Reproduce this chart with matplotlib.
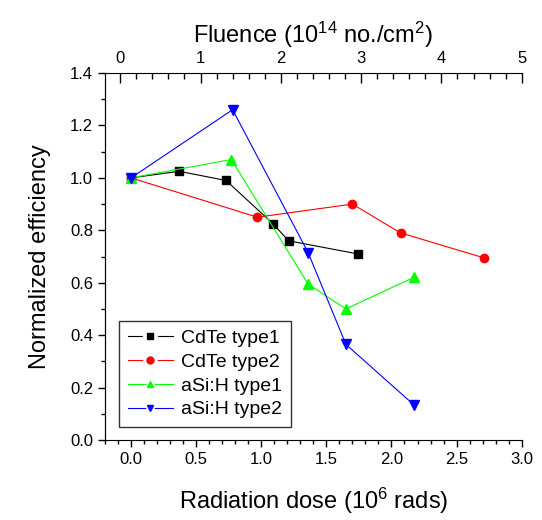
import numpy as np
import matplotlib
matplotlib.use("Agg")
import matplotlib.pyplot as plt
from matplotlib.ticker import MultipleLocator
from matplotlib.lines import Line2D

plt.rcParams['font.family'] = ['Liberation Sans', 'DejaVu Sans']
plt.rcParams['mathtext.fontset'] = 'custom'
plt.rcParams['mathtext.rm'] = 'Liberation Sans'
plt.rcParams['mathtext.it'] = 'Liberation Sans'
plt.rcParams['mathtext.bf'] = 'Liberation Sans'

# data (dose in 10^6 rads, normalized efficiency)
cdte1_x = [0.0, 0.37, 0.73, 1.09, 1.21, 1.74]
cdte1_y = [1.0, 1.025, 0.99, 0.825, 0.76, 0.71]
cdte2_x = [0.0, 0.97, 1.70, 2.07, 2.71]
cdte2_y = [1.0, 0.85, 0.90, 0.79, 0.695]
asi1_x = [0.0, 0.77, 1.36, 1.65, 2.17]
asi1_y = [1.0, 1.07, 0.595, 0.50, 0.62]
asi2_x = [0.0, 0.78, 1.36, 1.65, 2.17]
asi2_y = [1.0, 1.26, 0.715, 0.365, 0.135]

labels = ['CdTe type1', 'CdTe type2', 'aSi:H type1', 'aSi:H type2']
colors = ['black', 'red', '#00ff00', 'blue']
markers = ['s', 'o', '^', 'v']

fig = plt.figure(figsize=(5.42, 5.2), dpi=100)
ax = fig.add_axes([0.1937, 0.1538, 0.7688, 0.7058])

ax.plot(cdte1_x, cdte1_y, color=colors[0], marker=markers[0], ms=5.5, lw=0.8)
ax.plot(cdte2_x, cdte2_y, color=colors[1], marker=markers[1], ms=6, lw=0.8)
ax.plot(asi1_x, asi1_y, color=colors[2], marker=markers[2], ms=6.5, lw=0.8)
ax.plot(asi2_x, asi2_y, color=colors[3], marker=markers[3], ms=6.5, lw=0.8)

ax.set_xlim(-0.2, 3.0)
ax.set_ylim(0.0, 1.4)
ax.xaxis.set_major_locator(MultipleLocator(0.5))
ax.xaxis.set_minor_locator(MultipleLocator(0.1))
ax.yaxis.set_major_locator(MultipleLocator(0.2))
ax.yaxis.set_minor_locator(MultipleLocator(0.1))
ax.xaxis.set_major_formatter(matplotlib.ticker.FormatStrFormatter('%.1f'))
ax.yaxis.set_major_formatter(matplotlib.ticker.FormatStrFormatter('%.1f'))
ax.tick_params(which='major', direction='out', length=5, width=1, labelsize=12, top=False, right=False)
ax.tick_params(which='minor', direction='out', length=3, width=1, top=False, right=False)
ax.spines['right'].set_visible(False)
ax.spines['top'].set_visible(False)
ax.set_xlabel('Radiation dose (10$^{6}$ rads)', fontsize=17, labelpad=14)
ax.set_ylabel('Normalized efficiency', fontsize=17, labelpad=14)

# top fluence axis
ax2 = ax.twiny()
ax2.set_xlim(-0.19, 5.0)
ax2.xaxis.set_major_locator(MultipleLocator(1))
ax2.xaxis.set_minor_locator(MultipleLocator(0.2))
ax2.tick_params(which='major', direction='in', length=7, width=1, labelsize=12, pad=5)
ax2.tick_params(which='minor', direction='in', length=4, width=1)
ax2.spines['right'].set_visible(False)
ax2.spines['bottom'].set_visible(False)
ax2.set_xlabel('Fluence (10$^{14}$ no./cm$^{2}$)', fontsize=17, labelpad=6)

# legend handles: line with a white gap, small marker on top
handles = []
for c, m in zip(colors, markers):
    line = Line2D([], [], color=c, lw=0.8, marker=m, ms=9.5, mfc='white', mec='white')
    mk = Line2D([], [], ls='none', marker=m, ms=5, color=c)
    handles.append((line, mk))
leg = ax.legend(handles, labels, loc='lower left', bbox_to_anchor=(0.034, 0.035), borderaxespad=0,
                fontsize=14, frameon=True, fancybox=False, edgecolor='black',
                handlelength=2.3, labelspacing=0.32, borderpad=0.45, handletextpad=0.45)
leg.get_frame().set_linewidth(1)

fig.savefig('out.png', dpi=100)
